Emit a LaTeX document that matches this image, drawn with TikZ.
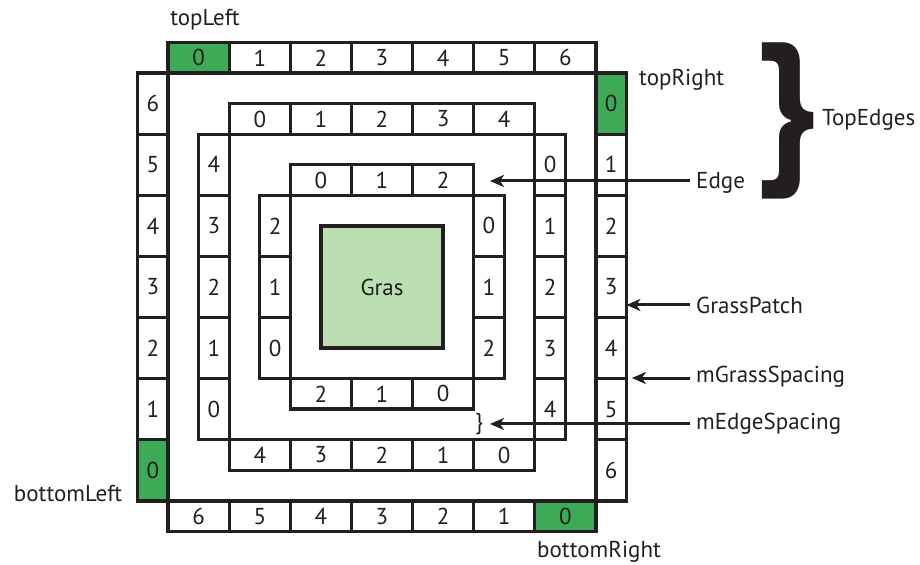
\documentclass[tikz,border=0pt]{standalone}
\usepackage{fontspec}
\setmainfont{PT Sans}
\usetikzlibrary{arrows.meta}
\definecolor{ink}{RGB}{35,31,32}
\definecolor{patchgreen}{RGB}{60,170,87}
\definecolor{grasgreen}{RGB}{187,222,178}

\begin{document}
\begin{tikzpicture}[x=30.55pt,y=30.55pt,
  cell/.style={draw=ink, line width=3.4pt, fill=white, inner sep=0pt, text=ink,
    font=\fontsize{23}{23}\selectfont},
  hcell/.style={cell, minimum width=61.1pt, minimum height=30.55pt},
  vcell/.style={cell, minimum width=30.55pt, minimum height=61.1pt},
  corner/.style={fill=patchgreen},
  lbl/.style={text=ink, font=\fontsize{23}{23}\selectfont, inner sep=0pt},
  pointer/.style={draw=ink, line width=3pt, shorten <=6pt,
    -{Stealth[length=14pt,width=12pt,inset=4pt]}}
]
\useasboundingbox (-12.504,-9.100) rectangle (17.610,9.394);

% central grass square
\node[draw=ink, line width=3.4pt, fill=grasgreen, minimum size=122.2pt, inner sep=0pt,
  text=ink, font=\fontsize{23}{23}\selectfont] (gras) at (0,0) {Gras};

% three rings of edge cells: 7, 5 and 3 cells per side
\foreach \k in {0,1,2}{
  \pgfmathtruncatemacro\n{7-2*\k}
  \pgfmathtruncatemacro\last{\n-1}
  \foreach \i in {0,...,\last}{
    \pgfmathsetmacro\a{-\n+2*\i+1}
    \pgfmathsetmacro\b{\n+0.5}
    \ifnum\numexpr\k+\i\relax=0 \def\cs{corner}\else\def\cs{}\fi
    \node[hcell,\cs] (r\k t\i) at (\a,\b) {\i};
    \node[vcell,\cs] (r\k r\i) at (\b,-\a) {\i};
    \node[hcell,\cs] (r\k b\i) at (-\a,-\b) {\i};
    \node[vcell,\cs] (r\k l\i) at (-\b,\a) {\i};
  }
}

% corner names
\node[lbl] (topleft) at (-5.794,8.740) {topLeft};
\node[lbl, anchor=west] (topright) at (8.413,6.776) {topRight};
\node[lbl] (bottomleft) at (-10.278,-6.776) {bottomLeft};
\node[lbl, anchor=west] (bottomright) at (5.074,-8.674) {bottomRight};

% brace over the top edges
\node[text=ink, inner sep=0pt, font=\fontsize{168}{168}\selectfont\bfseries] (bigbrace) at (13.29,5.45) {\}};
\node[lbl, anchor=west] (topedges) at (14.403,5.466) {TopEdges};

% pointers
\coordinate (edgetip) at (3.535,3.47);
\coordinate (patchtip) at (8.0,-0.589);
\coordinate (gspacetip) at (8.18,-2.98);
\coordinate (espacetip) at (3.535,-4.484);

\node[lbl, anchor=west] (edge) at (10.278,3.404) {Edge};
\node[lbl, anchor=west] (grasspatch) at (10.278,-0.589) {GrassPatch};
\node[lbl, anchor=west] (gspacing) at (10.278,-2.946) {mGrassSpacing};
\node[lbl, anchor=west] (espacing) at (10.278,-4.484) {mEdgeSpacing};
\node[lbl] (smallbrace) at (3.175,-4.484) {\}};

\draw[pointer] (edgetip -| edge.west) -- (edgetip);
\draw[pointer] (patchtip -| grasspatch.west) -- (patchtip);
\draw[pointer] (gspacetip -| gspacing.west) -- (gspacetip);
\draw[pointer] (espacetip -| espacing.west) -- (espacetip);
\end{tikzpicture}
\end{document}
